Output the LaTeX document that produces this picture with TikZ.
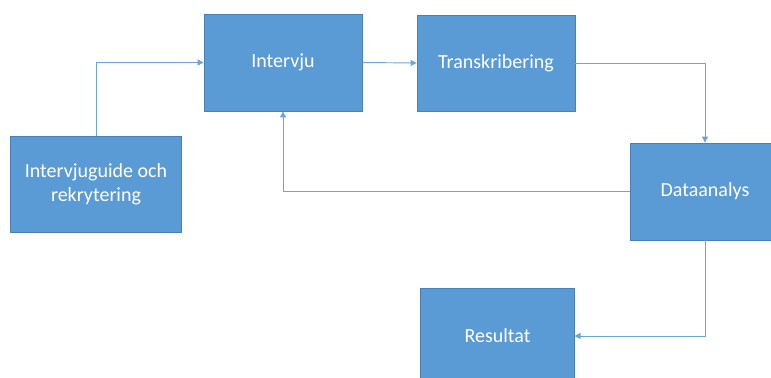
\documentclass[tikz,border=0pt]{standalone}
\usepackage{fontspec}
\setmainfont{Carlito}
\usetikzlibrary{arrows.meta}
\definecolor{boxblue}{HTML}{5B9BD5}
\definecolor{boxedge}{HTML}{4A80B8}
\definecolor{linkblue}{HTML}{6AA5DB}
\begin{document}
\begin{tikzpicture}[x=0.75pt,y=-0.75pt,
  stage/.style={draw=boxedge,line width=0.6pt,fill=boxblue,text=white,
    inner sep=0pt,align=center,font=\fontsize{15}{17.8}\selectfont},
  link/.style={draw=linkblue,line width=0.7pt,
    -{Triangle[length=4.5pt,width=4.5pt]}}]
  \useasboundingbox (0,0) rectangle (771,378);
  \clip (0,0) rectangle (771,378);
  % process stages
  \node[stage,minimum width=128pt,minimum height=72pt] (guide) at (96,184)
    {Intervjuguide och\\rekrytering};
  \node[stage,minimum width=118.5pt,minimum height=72.75pt] (intervju) at (283,62.5) {Intervju};
  \node[stage,minimum width=118.5pt,minimum height=72pt] (trans) at (496,63) {Transkribering};
  \node[stage,minimum width=112.5pt,minimum height=72.75pt] (data) at (705,191.5) {Dataanalys};
  \node[stage,minimum width=115pt,minimum height=72pt] (result) at (497.5,336) {Resultat};
  % flow between stages
  \draw[link] (guide.north) |- (intervju.west);
  \draw[link] (intervju.east) -- (trans.west);
  \draw[link] (trans.east) -| (data.north);
  \draw[link] (data.west) -| (intervju.south);
  \draw[link] (data.south) |- (result.east);
\end{tikzpicture}
\end{document}
